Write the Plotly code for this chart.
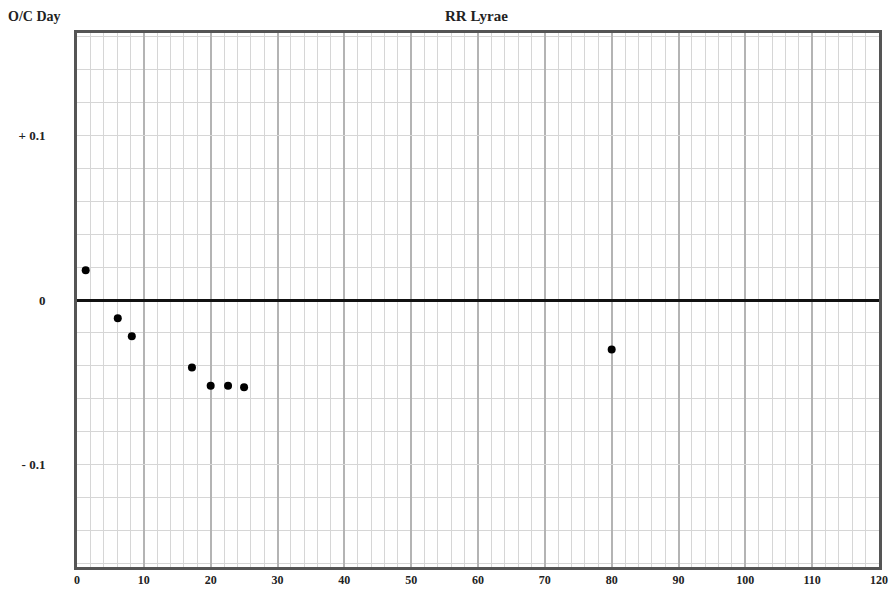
import plotly.graph_objects as go

x_cycles = [1.3, 6.1, 8.2, 17.2, 20.0, 22.6, 25.0, 80.0]
oc_days = [0.018, -0.011, -0.022, -0.041, -0.052, -0.052, -0.053, -0.030]
x_tickvals = [0, 10, 20, 30, 40, 50, 60, 70, 80, 90, 100, 110, 120]
y_tickvals = [-0.1, 0, 0.1]
y_ticktext = ["- 0.1", "0", "+ 0.1"]

FONT = "Liberation Serif"
L, R, T, B = 77, 14, 33, 24
PW, PH = 893 - L - R, 591 - T - B

fig = go.Figure()
fig.add_trace(go.Scatter(
    x=x_cycles, y=oc_days, mode="markers",
    marker=dict(color="black", size=8),
    hoverinfo="x+y", showlegend=False,
))

fig.update_layout(
    width=893, height=591,
    margin=dict(l=L, r=R, t=T, b=B),
    paper_bgcolor="white", plot_bgcolor="white",
    font=dict(family=FONT, size=12, color="#222"),
    xaxis=dict(
        range=[0, 120], tickvals=x_tickvals,
        ticktext=[f"<b>{v}</b>" for v in x_tickvals],
        showgrid=True, gridcolor="#b4b4b4", gridwidth=1.5,
        minor=dict(dtick=2, showgrid=True, gridcolor="#d6d6d6", gridwidth=1),
        showline=True, linecolor="#555", linewidth=3, mirror=True,
        ticks="", ticklabelstandoff=0, zeroline=False, automargin=False,
        tickfont=dict(family=FONT, size=12, color="#222"),
    ),
    yaxis=dict(
        range=[-0.162, 0.162], tickvals=y_tickvals,
        ticktext=[f"<b>{t}</b>" for t in y_ticktext],
        showgrid=True, gridcolor="#d6d6d6", gridwidth=1,
        minor=dict(dtick=0.02, tick0=0, showgrid=True, gridcolor="#d6d6d6", gridwidth=1),
        showline=True, linecolor="#555", linewidth=3, mirror=True,
        ticks="", ticklabelstandoff=26, automargin=False,
        zeroline=True, zerolinecolor="#111", zerolinewidth=3,
        tickfont=dict(family=FONT, size=13, color="#222"),
    ),
    annotations=[
        dict(text="<b>O/C Day</b>", xref="paper", yref="paper",
             x=(6 - L) / PW, y=(591 - B - 16) / PH, xanchor="left", yanchor="middle",
             showarrow=False, font=dict(family=FONT, size=14, color="#222")),
        dict(text="<b>RR Lyrae</b>", xref="paper", yref="paper",
             x=(476 - L) / PW, y=(591 - B - 16) / PH, xanchor="center", yanchor="middle",
             showarrow=False, font=dict(family=FONT, size=15, color="#222")),
    ],
)

fig.write_html("out.html", config={"displayModeBar": False},
               post_script="document.body.style.margin='0';")
